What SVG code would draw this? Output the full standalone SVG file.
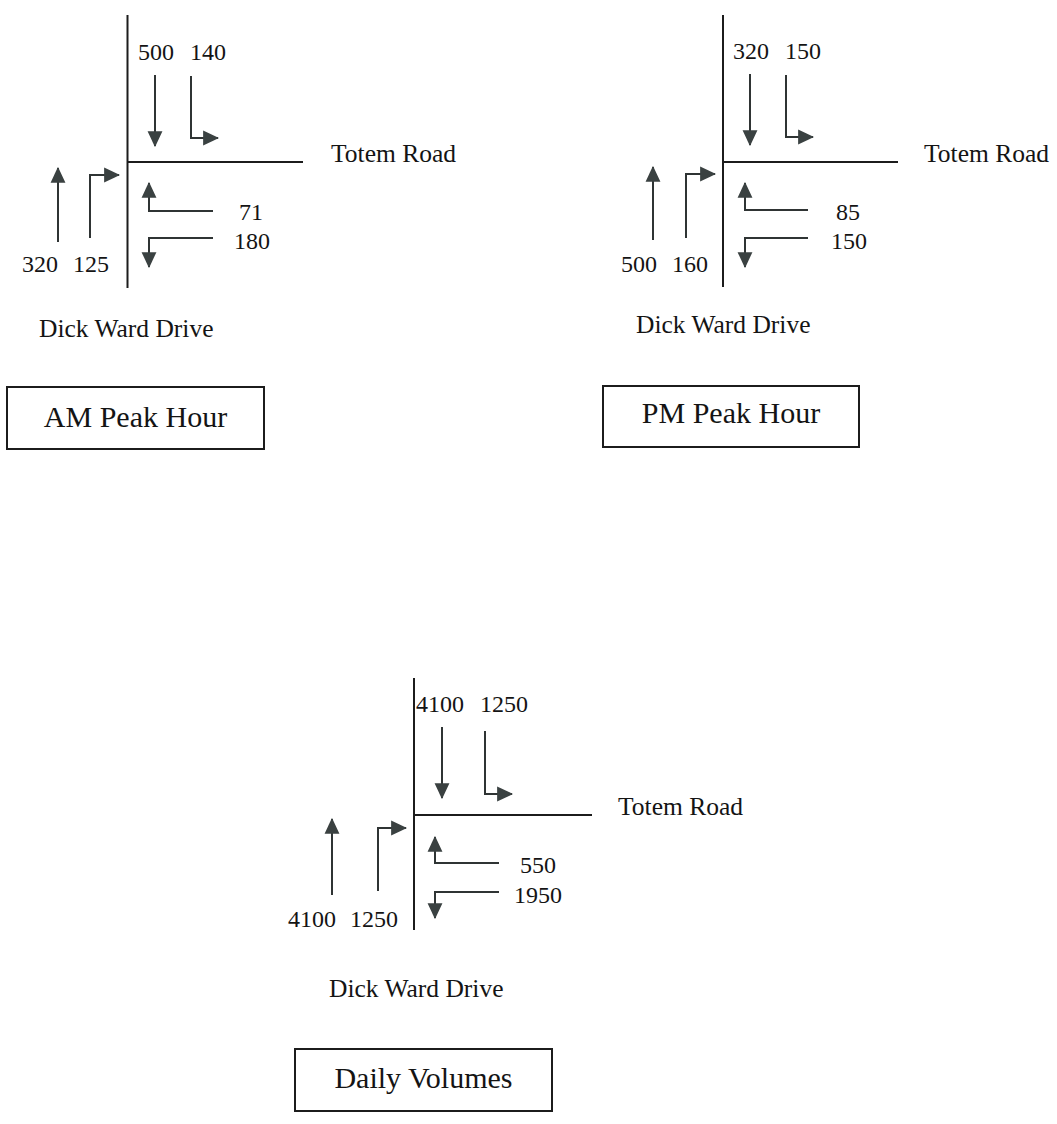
<svg xmlns="http://www.w3.org/2000/svg" width="1057" height="1124" viewBox="0 0 1057 1124">
<style>
.road{stroke:#1c1c1c;stroke-width:2;fill:none}
.arr{stroke:#2f3434;stroke-width:2;fill:none;marker-end:url(#ah)}
.num{font-family:"Liberation Serif","Times New Roman",serif;font-size:24px;fill:#141414}
.lbl{font-family:"Liberation Serif","Times New Roman",serif;font-size:25.5px;fill:#141414}
.ttl{font-family:"Liberation Serif","Times New Roman",serif;font-size:30px;fill:#141414;text-anchor:middle}
.box{fill:#fff;stroke:#1c1c1c;stroke-width:2}
</style>
<defs>
<marker id="ah" markerUnits="userSpaceOnUse" markerWidth="16" markerHeight="16" viewBox="0 0 14 13" refX="13" refY="6.5" orient="auto">
<path d="M0,0 L14,6.5 L0,13 Z" fill="#3a4141"/>
</marker>
</defs>
<rect width="1057" height="1124" fill="#fff"/>

<g id="am">
<g id="am-roads">
<line class="road" x1="127.5" y1="15" x2="127.5" y2="288"/>
<line class="road" x1="128" y1="162" x2="303" y2="162"/>
</g>
<g id="am-connectors">
<polyline class="arr" points="155,75 155,146"/>
<polyline class="arr" points="191,76 191,138 218,138"/>
<polyline class="arr" points="58,242 58,168"/>
<polyline class="arr" points="90,238 90,175 119,175"/>
<polyline class="arr" points="213,211 149,211 149,183"/>
<polyline class="arr" points="213,238 149,238 149,267"/>
</g>
<g id="am-labels">
<text class="num" x="138" y="60">500</text>
<text class="num" x="190" y="60">140</text>
<text class="lbl" x="331" y="162">Totem Road</text>
<text class="num" x="239" y="220">71</text>
<text class="num" x="234" y="249">180</text>
<text class="num" x="22" y="272">320</text>
<text class="num" x="73" y="272">125</text>
<text class="lbl" x="39" y="337">Dick Ward Drive</text>
</g>
<g id="am-title">
<rect class="box" x="7" y="387" width="257" height="62"/>
<text class="ttl" x="135.5" y="427">AM Peak Hour</text>
</g>
</g>

<g id="pm">
<g id="pm-roads">
<line class="road" x1="723" y1="15" x2="723" y2="287"/>
<line class="road" x1="723" y1="162" x2="898" y2="162"/>
</g>
<g id="pm-connectors">
<polyline class="arr" points="750,74 750,145"/>
<polyline class="arr" points="786,75 786,137 813,137"/>
<polyline class="arr" points="653,240 653,167"/>
<polyline class="arr" points="686,238 686,174 715,174"/>
<polyline class="arr" points="808,210 745,210 745,183"/>
<polyline class="arr" points="808,238 745,238 745,267"/>
</g>
<g id="pm-labels">
<text class="num" x="733" y="59">320</text>
<text class="num" x="785" y="59">150</text>
<text class="lbl" x="924" y="162">Totem Road</text>
<text class="num" x="836" y="220">85</text>
<text class="num" x="831" y="249">150</text>
<text class="num" x="621" y="272">500</text>
<text class="num" x="672" y="272">160</text>
<text class="lbl" x="636" y="333">Dick Ward Drive</text>
</g>
<g id="pm-title">
<rect class="box" x="603" y="386" width="256" height="61"/>
<text class="ttl" x="731" y="423">PM Peak Hour</text>
</g>
</g>

<g id="daily">
<g id="daily-roads">
<line class="road" x1="414" y1="678" x2="414" y2="930"/>
<line class="road" x1="414" y1="815" x2="592" y2="815"/>
</g>
<g id="daily-connectors">
<polyline class="arr" points="442,727 442,798"/>
<polyline class="arr" points="485,731 485,794 512,794"/>
<polyline class="arr" points="332,895 332,819"/>
<polyline class="arr" points="378,891 378,828 406,828"/>
<polyline class="arr" points="499,863 435,863 435,837"/>
<polyline class="arr" points="499,892 435,892 435,918"/>
</g>
<g id="daily-labels">
<text class="num" x="416" y="712">4100</text>
<text class="num" x="480" y="712">1250</text>
<text class="lbl" x="618" y="815">Totem Road</text>
<text class="num" x="520" y="873">550</text>
<text class="num" x="514" y="903">1950</text>
<text class="num" x="288" y="927">4100</text>
<text class="num" x="350" y="927">1250</text>
<text class="lbl" x="329" y="997">Dick Ward Drive</text>
</g>
<g id="daily-title">
<rect class="box" x="295" y="1049" width="257" height="62"/>
<text class="ttl" x="423.5" y="1088">Daily Volumes</text>
</g>
</g>
</svg>
